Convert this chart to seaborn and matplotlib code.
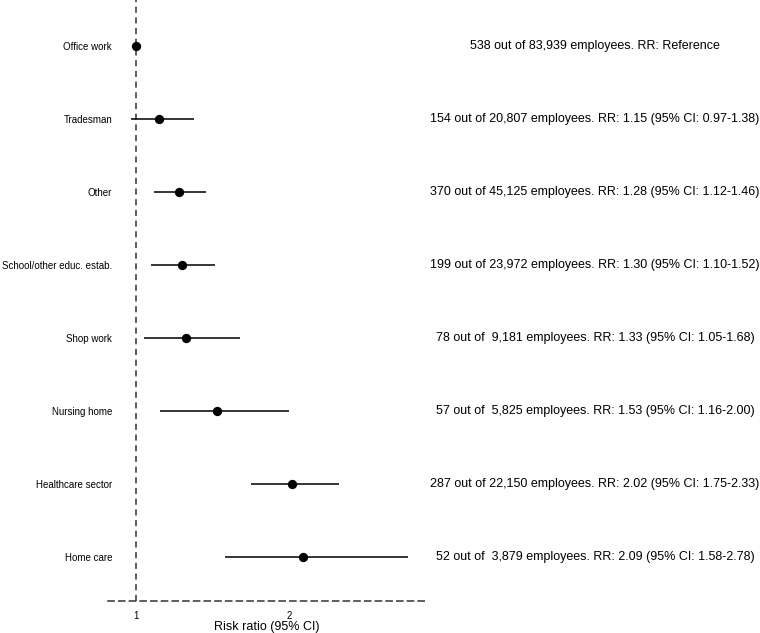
import numpy as np
import pandas as pd
import matplotlib
matplotlib.use('Agg')
import matplotlib.pyplot as plt
import matplotlib.transforms as mtransforms
import seaborn as sns

# Values
categories = ['Office work',
              'Tradesman',
              'Other',
              'School/other educ. estab.',
              'Shop work',
              'Nursing home',
              'Healthcare sector',
              'Home care']
cases = [538, 154, 370, 199, 78, 57, 287, 52]
employees = [83939, 20807, 45125, 23972, 9181, 5825, 22150, 3879]
rr = [1.00, 1.15, 1.28, 1.30, 1.33, 1.53, 2.02, 2.09]
ci_low = [np.nan, 0.97, 1.12, 1.10, 1.05, 1.16, 1.75, 1.58]
ci_high = [np.nan, 1.38, 1.46, 1.52, 1.68, 2.00, 2.33, 2.78]

df = pd.DataFrame({
    'group': categories,
    'cases': cases,
    'employees': employees,
    'rr': rr,
    'lo': ci_low,
    'hi': ci_high,
})
df['pos'] = np.arange(len(df))


def make_label(row):
    txt = f"{row.cases} out of {row.employees:>6,} employees. RR: "
    if np.isnan(row.lo):
        return txt + 'Reference'
    return txt + f"{row.rr:.2f} (95% CI: {row.lo:.2f}-{row.hi:.2f})"


df['label'] = df.apply(make_label, axis=1)

sns.set_style('white')
plt.rcParams['font.family'] = ['Liberation Sans', 'DejaVu Sans']
plt.rcParams['text.color'] = 'black'
plt.rcParams['xtick.color'] = 'black'
plt.rcParams['ytick.color'] = 'black'
plt.rcParams['axes.labelcolor'] = 'black'

fig = plt.figure(figsize=(7.6, 6.33), dpi=100)
ax = fig.add_axes([0.142, 0.0506, 0.417, 0.9494])

# confidence intervals
ci = df.dropna()
ax.hlines(ci.pos, ci.lo, ci.hi, color='black', lw=1.1, zorder=2)

# point estimates
sns.scatterplot(data=df, x='rr', y='pos', color='black', s=45,
                edgecolor='black', linewidth=0, zorder=3, ax=ax)

# reference line at RR = 1
ax.axvline(1, color='#333333', lw=1.1, ls=(0, (4, 3)), zorder=1)

ax.set_xlim(0.817, 2.89)
ax.set_ylim(len(df) - 0.4, -0.63)
ax.set_xticks([1, 2])
ax.set_xticklabels(['1', '2'], fontsize=7)
ax.tick_params(axis='x', length=0, pad=7)
ax.set_yticks(df.pos)
ax.set_yticklabels(df.group, fontsize=7)
ax.tick_params(axis='y', length=0, pad=-3)

for side in ['top', 'right', 'left']:
    ax.spines[side].set_visible(False)
ax.spines['bottom'].set_linestyle((0, (4, 3)))
ax.spines['bottom'].set_color('#333333')
ax.spines['bottom'].set_linewidth(1.1)

ax.set_xlabel('Risk ratio (95% CI)', fontsize=9, labelpad=0)
ax.set_ylabel(None)

# annotations on the right
trans = mtransforms.blended_transform_factory(fig.transFigure, ax.transData)
for _, row in df.iterrows():
    ax.text(0.783, row.pos, row.label, transform=trans, ha='center',
            va='center', fontsize=9, clip_on=False)

fig.savefig('out.png', dpi=100)
